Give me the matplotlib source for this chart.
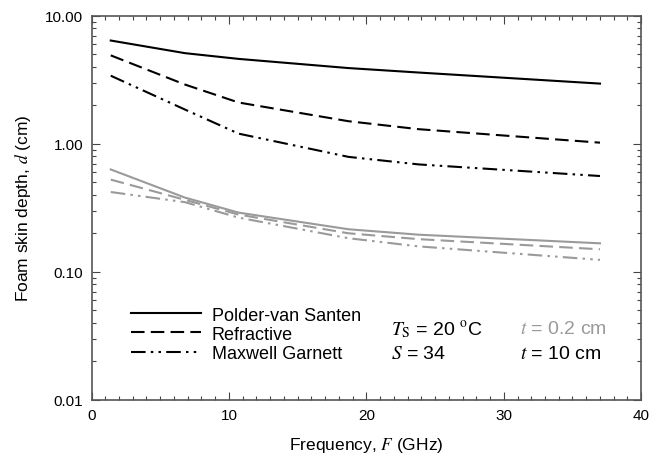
import numpy as np
import matplotlib
matplotlib.use('Agg')
import matplotlib.pyplot as plt
from matplotlib.ticker import MultipleLocator, LogLocator, FormatStrFormatter, NullFormatter

plt.rcParams['font.family'] = ['Liberation Sans', 'DejaVu Sans']
plt.rcParams['mathtext.fontset'] = 'stix'

# frequencies (GHz)
freq = [1.4, 6.8, 10.7, 18.7, 23.8, 37.0]

# foam thickness t = 10 cm (black)
pvs_thick = [6.4, 5.1, 4.6, 3.9, 3.6, 2.95]
ref_thick = [4.9, 2.9, 2.1, 1.5, 1.3, 1.02]
mg_thick = [3.4, 1.85, 1.2, 0.79, 0.69, 0.56]

# foam thickness t = 0.2 cm (gray)
pvs_thin = [0.63, 0.38, 0.29, 0.215, 0.195, 0.167]
ref_thin = [0.525, 0.365, 0.28, 0.2, 0.18, 0.15]
mg_thin = [0.42, 0.35, 0.265, 0.183, 0.158, 0.124]

labels = ['Polder-van Santen', 'Refractive', 'Maxwell Garnett']
gray = '#9a9a9a'
dash = (0, (6.5, 3))
dashdot = (0, (7, 2.5, 1.2, 2.5, 1.2, 2.5))

fig = plt.figure(figsize=(6.49, 4.64), dpi=100)
ax = fig.add_axes([0.141, 0.136, 0.847, 0.828])

ax.plot(freq, pvs_thick, color='black', lw=1.5, ls='-', label=labels[0])
ax.plot(freq, ref_thick, color='black', lw=1.5, ls=dash, label=labels[1])
ax.plot(freq, mg_thick, color='black', lw=1.5, ls=dashdot, label=labels[2])
ax.plot(freq, pvs_thin, color=gray, lw=1.5, ls='-')
ax.plot(freq, ref_thin, color=gray, lw=1.5, ls=dash)
ax.plot(freq, mg_thin, color=gray, lw=1.5, ls=dashdot)

ax.set_yscale('log')
ax.set_xlim(0, 40)
ax.set_ylim(0.01, 10)
ax.xaxis.set_major_locator(MultipleLocator(10))
ax.xaxis.set_minor_locator(MultipleLocator(1))
ax.yaxis.set_major_locator(LogLocator(base=10))
ax.yaxis.set_minor_locator(LogLocator(base=10, subs=np.arange(2, 10)))
ax.yaxis.set_major_formatter(FormatStrFormatter('%.2f'))
ax.yaxis.set_minor_formatter(NullFormatter())

ax.tick_params(which='both', direction='in', top=True, right=True,
               colors='#444444', labelcolor='black', labelsize=11, width=0.8)
ax.tick_params(which='major', length=6, pad=6)
ax.tick_params(which='minor', length=3)
for s in ax.spines.values():
    s.set_color('#555555')
    s.set_linewidth(1.2)

ax.set_xlabel(r'Frequency, $F$ (GHz)', fontsize=12.5, labelpad=9)
ax.set_ylabel(r'Foam skin depth, $d$ (cm)', fontsize=12.5, labelpad=9)

ax.legend(loc='lower left', bbox_to_anchor=(0.058, 0.08), frameon=False,
          fontsize=13, handlelength=3.9, handletextpad=0.6,
          labelspacing=0.12, borderaxespad=0)

ax.text(0.545, 0.185, r'$T_\mathrm{S}$ = 20 $^\mathrm{o}$C', transform=ax.transAxes,
        fontsize=14, va='center')
ax.text(0.545, 0.12, r'$S$ = 34', transform=ax.transAxes, fontsize=14, va='center')
ax.text(0.78, 0.185, r'$t$ = 0.2 cm', transform=ax.transAxes, fontsize=14,
        va='center', color=gray)
ax.text(0.78, 0.12, r'$t$ = 10 cm', transform=ax.transAxes, fontsize=14, va='center')

fig.savefig('out.png', dpi=100)
